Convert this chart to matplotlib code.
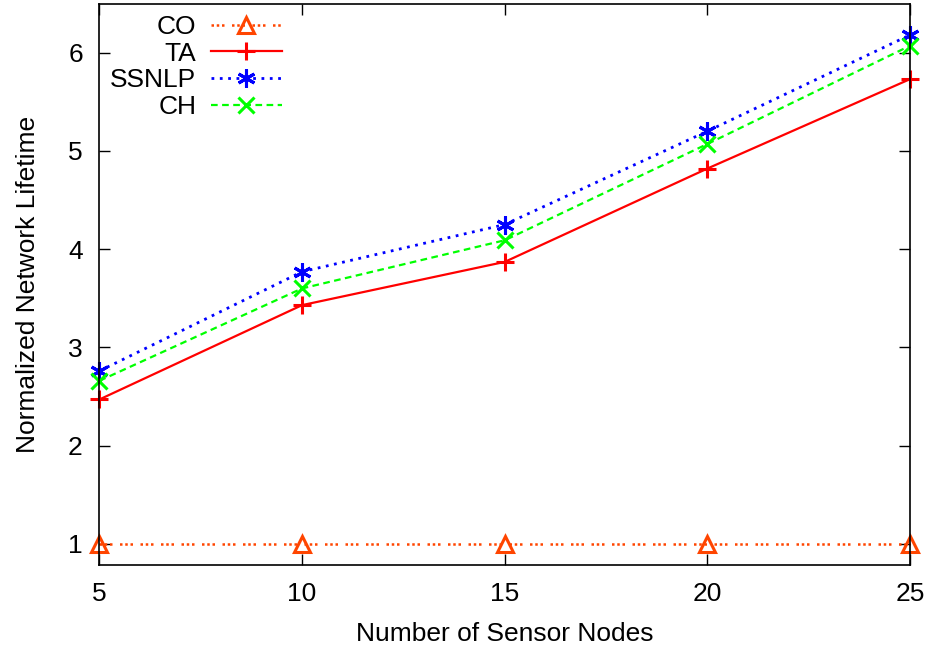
import numpy as np
import matplotlib.pyplot as plt

plt.rcParams['font.family'] = ['Liberation Sans', 'DejaVu Sans']

nodes = [5, 10, 15, 20, 25]
co = [1.0, 1.0, 1.0, 1.0, 1.0]
ta = [2.47, 3.43, 3.87, 4.82, 5.73]
ssnlp = [2.76, 3.77, 4.25, 5.20, 6.18]
ch = [2.66, 3.60, 4.09, 5.07, 6.07]

fig = plt.figure(figsize=(9.28, 6.48), dpi=100)
ax = fig.add_axes([0.1072, 0.1281, 0.8734, 0.865])

ax.plot(nodes, co, color="#ff4500", linestyle=(0, (1, 1.1, 1, 1.1, 1, 3)), linewidth=1.8,
        marker="^", markersize=12, markerfacecolor="none", markeredgewidth=2.2,
        label="CO", clip_on=False)
ax.plot(nodes, ta, color="#ff0000", linestyle="-", linewidth=1.6,
        marker="+", markersize=13, markeredgewidth=2.2, label="TA", clip_on=False)
ax.plot(nodes, ssnlp, color="#0000ff", linestyle=(0, (1, 2)), linewidth=2,
        marker=(6, 2, 0), markersize=13, markeredgewidth=2.2, label="SSNLP", clip_on=False)
ax.plot(nodes, ch, color="#00ff00", linestyle=(0, (3, 2)), linewidth=1.6,
        marker="x", markersize=11, markeredgewidth=2.2, label="CH", clip_on=False)

ax.set_xlim(5, 25)
ax.set_ylim(0.785, 6.49)
ax.set_xticks(nodes)
ax.set_yticks([1, 2, 3, 4, 5, 6])
ax.tick_params(direction="in", length=8, width=1, top=True, right=True,
               labelsize=19, pad=12)
for s in ax.spines.values():
    s.set_linewidth(1.2)

ax.set_xlabel("Number of Sensor Nodes", fontsize=19, labelpad=12)
ax.set_ylabel("Normalized Network Lifetime", fontsize=19, labelpad=20)

ax.legend(loc="upper left", bbox_to_anchor=(0.0, 1.0), frameon=False,
          markerfirst=False, fontsize=19, handlelength=2.7, handletextpad=0.55,
          labelspacing=0.1, borderaxespad=0.15, borderpad=0.25)

plt.savefig("out.png", dpi=100)
